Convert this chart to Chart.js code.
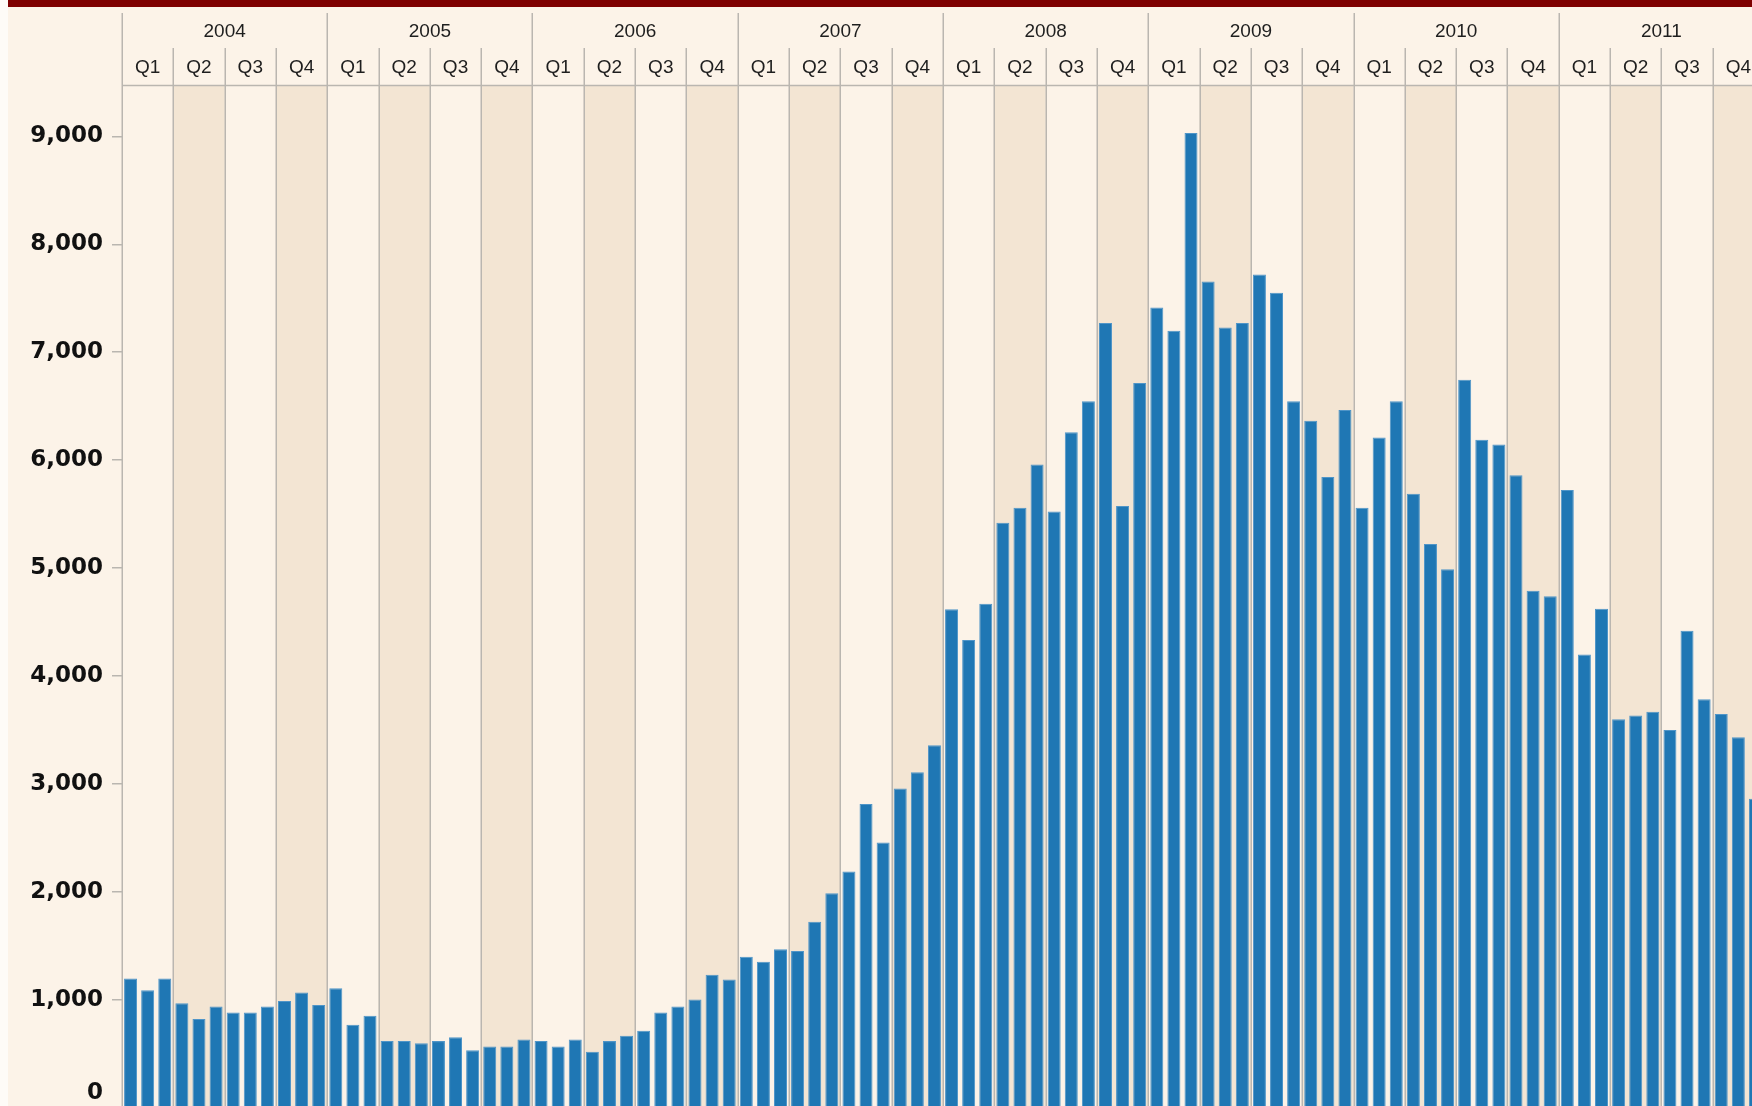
<!DOCTYPE html>
<html lang="en">
  <head>
    <meta charset="UTF-8">
    <script src="https://cdn.jsdelivr.net/npm/chart.js"></script>
    <style>
      html, body {
      margin: 0;
      padding: 0;
      overflow: hidden;
      background: #fefbf7;
      }
      .chart-container {
      position: absolute;
      left: 8px;
      top: 0;
      width: 1770px;
      height: 1110px;
      background: #fcf3e8;
      }
    </style>
  </head>
  <body>
    <div class="chart-container">
      <canvas id="salesChart" width="1770" height="1110"></canvas>
    </div>
    <script>
      // categories
      const years = ['2004', '2005', '2006', '2007', '2008', '2009', '2010', '2011'];
      const quarters = ['Q1', 'Q2', 'Q3', 'Q4'];

      // monthly values, Jan 2004 .. Dec 2011
      const monthlyValues = [
        1200, 1090, 1200, 970, 825, 940, 885, 885, 940, 990, 1070, 955,
        1110, 770, 855, 620, 620, 600, 620, 655, 535, 570, 570, 635,
        620, 570, 635, 520, 620, 670, 715, 885, 940, 1005, 1235, 1190,
        1400, 1355, 1470, 1455, 1725, 1990, 2190, 2815, 2460, 2960, 3110, 3360,
        4620, 4335, 4670, 5420, 5560, 5960, 5525, 6260, 6545, 7270, 5575, 6715,
        7415, 7200, 9030, 7655, 7230, 7270, 7720, 7550, 6545, 6365, 5845, 6465,
        5560, 6210, 6545, 5690, 5225, 4990, 6745, 6190, 6145, 5860, 4790, 4740,
        5725, 4200, 4625, 3600, 3635, 3670, 3500, 4420, 3785, 3650, 3435, 2865
      ];

      // y tick labels
      const yTicks = [1000, 2000, 3000, 4000, 5000, 6000, 7000, 8000, 9000];

      const labels = [];
      years.forEach(y => {
        for (let m = 1; m <= 12; m++) labels.push(y + '-' + m);
      });

      const lineColor = '#bab6b0';
      const textFont = '19px "Liberation Sans", Arial, sans-serif';

      // background bands, header (years / quarters) and separator lines
      const headerPlugin = {
        id: 'header',
        beforeDatasetsDraw(chart) {
          const { ctx, chartArea, scales: { x } } = chart;
          const slot = x.getPixelForValue(1) - x.getPixelForValue(0);
          const edge = i => x.getPixelForValue(i) - slot / 2;
          const nQ = years.length * 4;

          ctx.save();
          // red band on top
          ctx.fillStyle = '#7f0000';
          ctx.fillRect(0, 0, chart.width, 7);

          // Q2 / Q4 shading
          ctx.fillStyle = '#f3e5d3';
          for (let q = 1; q < nQ; q += 2) {
            ctx.fillRect(edge(q * 3), chartArea.top, edge(q * 3 + 3) - edge(q * 3), chartArea.bottom - chartArea.top);
          }

          ctx.strokeStyle = lineColor;
          ctx.lineWidth = 1.5;
          // quarter lines, year lines go up higher
          for (let q = 0; q <= nQ; q++) {
            const px = Math.round(edge(q * 3)) + 0.25;
            const top = q % 4 === 0 ? 13 : 48;
            ctx.beginPath();
            ctx.moveTo(px, top);
            ctx.lineTo(px, chartArea.bottom);
            ctx.stroke();
          }
          // line under the header
          ctx.beginPath();
          ctx.moveTo(edge(0), 85.5);
          ctx.lineTo(edge(nQ * 3), 85.5);
          ctx.stroke();

          // labels
          ctx.fillStyle = '#1e1e1e';
          ctx.font = textFont;
          ctx.textAlign = 'center';
          ctx.textBaseline = 'middle';
          years.forEach((y, i) => {
            ctx.fillText(y, (edge(i * 12) + edge(i * 12 + 12)) / 2, 32);
            quarters.forEach((q, j) => {
              const k = i * 12 + j * 3;
              ctx.fillText(q, (edge(k) + edge(k + 3)) / 2, 68);
            });
          });

          // zero label, pulled up so it stays visible
          ctx.fillStyle = '#111';
          ctx.font = 'bold 23px "DejaVu Sans", Verdana, sans-serif';
          ctx.textAlign = 'right';
          ctx.fillText('0', chartArea.left - 19, 1093);
          ctx.restore();
        }
      };

      const ctx = document.getElementById('salesChart').getContext('2d');
      const salesChart = new Chart(ctx, {
        type: 'bar',
        data: {
          labels: labels,
          datasets: [{
            data: monthlyValues,
            backgroundColor: '#1f77b4',
            borderColor: '#4f95c8',
            borderWidth: 1,
            categoryPercentage: 1,
            barPercentage: 0.76
          }]
        },
        options: {
          responsive: false,
          animation: false,
          layout: {
            padding: { top: 86, left: 0, right: 14, bottom: 2 }
          },
          plugins: {
            legend: { display: false },
            tooltip: { enabled: false }
          },
          scales: {
            x: {
              display: false
            },
            y: {
              min: 0,
              max: 9466,
              afterBuildTicks: scale => {
                scale.ticks = yTicks.map(v => ({ value: v }));
              },
              afterFit: scale => {
                scale.width = 114;
                scale.paddingTop = 0;
                scale.paddingBottom = 0;
              },
              border: { display: false },
              grid: {
                drawOnChartArea: false,
                tickLength: 10,
                color: lineColor,
                lineWidth: 1.5
              },
              ticks: {
                padding: 9,
                color: '#111',
                font: { family: '"DejaVu Sans", Verdana, sans-serif', weight: 'bold', size: 23 },
                callback: v => v.toLocaleString('en-US')
              }
            }
          }
        },
        plugins: [headerPlugin]
      });
    </script>
  </body>
</html>
